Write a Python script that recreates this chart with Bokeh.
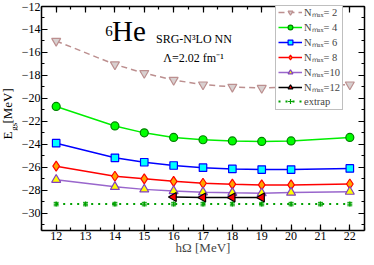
import math
from bokeh.plotting import figure
from bokeh.layouts import row
from bokeh.models import (LinearAxis, SingleIntervalTicker, Range1d, Label, Legend,
                          LegendItem, Whisker, ColumnDataSource)
from bokeh.core.properties import value
from bokeh.embed import file_html
from bokeh.resources import INLINE

# ---- data ----
hw = [12, 14, 15, 16, 17, 18, 19, 20, 22]
e_n2 = [-15.0, -17.05, -17.8, -18.4, -18.8, -19.0, -19.1, -19.0, -18.8]
e_n4 = [-20.7, -22.4, -23.0, -23.4, -23.6, -23.7, -23.75, -23.7, -23.4]
e_n6 = [-23.9, -25.17, -25.56, -25.84, -26.03, -26.14, -26.2, -26.2, -26.1]
e_n8 = [-25.9, -26.78, -27.0, -27.22, -27.39, -27.47, -27.53, -27.53, -27.45]
e_n10 = [-27.08, -27.7, -27.92, -28.06, -28.17, -28.22, -28.25, -28.2, -28.12]
hw_n12 = [16, 17, 18, 19]
e_n12 = [-28.58, -28.62, -28.62, -28.62]
hw_ex = [12, 13, 14, 15, 16, 17, 18, 19, 20, 21, 22]
e_ex = [-29.2] * 11
err_ex = [0.15] * 11
labels = ["N\u2098\u2090\u2093= 2", "N\u2098\u2090\u2093= 4", "N\u2098\u2090\u2093= 6",
          "N\u2098\u2090\u2093= 8", "N\u2098\u2090\u2093=10", "N\u2098\u2090\u2093=12", "extrap"]

FONT = "Liberation Serif"
W, H = 366, 257
LW = 18  # width of the strip holding the y-axis title

p = figure(width=W - LW, height=H, output_backend="svg", toolbar_location=None,
           x_range=Range1d(11.5, 22.5), y_range=Range1d(-31.5, -12),
           min_border_left=39 - LW, min_border_right=2, min_border_top=6,
           min_border_bottom=26)
p.grid.visible = False
p.outline_line_color = None
p.background_fill_color = "white"
p.border_fill_color = "white"

p.xaxis.ticker = SingleIntervalTicker(interval=1, num_minor_ticks=2)
p.yaxis.ticker = SingleIntervalTicker(interval=2, num_minor_ticks=2)

def style(ax, show_labels):
    ax.axis_line_width = 1.5
    ax.axis_line_color = "black"
    ax.major_tick_in = 6
    ax.major_tick_out = 0
    ax.minor_tick_in = 3
    ax.minor_tick_out = 0
    ax.major_tick_line_width = 1.2
    ax.minor_tick_line_width = 1.2
    ax.major_label_text_font = FONT
    ax.major_label_text_color = "black"
    if show_labels:
        ax.major_label_text_font_size = "12px"
    else:
        ax.major_label_text_font_size = "0px"
        ax.major_label_standoff = 0

style(p.xaxis[0], True)
style(p.yaxis[0], True)
p.xaxis.major_label_standoff = 1
p.yaxis.major_label_standoff = 1
p.xaxis.axis_label = "h\u03a9 [MeV]"
p.xaxis.axis_label_text_font = FONT
p.xaxis.axis_label_text_font_style = "normal"
p.xaxis.axis_label_text_font_size = "13px"
p.xaxis.axis_label_standoff = -3

top = LinearAxis(ticker=SingleIntervalTicker(interval=1, num_minor_ticks=2))
style(top, False)
p.add_layout(top, "above")
right = LinearAxis(ticker=SingleIntervalTicker(interval=2, num_minor_ticks=2))
style(right, False)
p.add_layout(right, "right")

# ---- series ----
items = []
r = p.line(hw, e_n2, line_color="#bc8f8f", line_width=1.5, line_dash="6 4")
s = p.scatter(hw, e_n2, marker="inverted_triangle", size=9, fill_color="#d8d0d0",
              line_color="#bc8f8f", line_width=1.2)
items.append(LegendItem(label=labels[0], renderers=[r, s]))

r = p.line(hw, e_n4, line_color="#00ee00", line_width=1.5)
s = p.scatter(hw, e_n4, marker="circle", size=8, fill_color="#00ff00",
              line_color="#008000", line_width=1.2)
items.append(LegendItem(label=labels[1], renderers=[r, s]))

r = p.line(hw, e_n6, line_color="#0000ff", line_width=1.5)
s = p.scatter(hw, e_n6, marker="square", size=7.5, fill_color="#00ffff",
              line_color="#0000ff", line_width=1.2)
items.append(LegendItem(label=labels[2], renderers=[r, s]))

r = p.line(hw, e_n8, line_color="#ff0000", line_width=1.5)
s = p.scatter(hw, e_n8, marker="diamond", size=10, fill_color="#ffa500",
              line_color="#ff0000", line_width=1.2)
items.append(LegendItem(label=labels[3], renderers=[r, s]))

r = p.line(hw, e_n10, line_color="#9966cc", line_width=1.5)
s = p.scatter(hw, e_n10, marker="triangle", size=9, fill_color="#ffff00",
              line_color="#8040c0", line_width=1.2)
items.append(LegendItem(label=labels[4], renderers=[r, s]))

r = p.line(hw_n12, e_n12, line_color="black", line_width=1.5)
s = p.scatter(hw_n12, e_n12, marker="triangle", angle=math.pi / 2, size=9,
              fill_color="#ff0000", line_color="black", line_width=1.2)
items.append(LegendItem(label=labels[5], renderers=[r, s]))

src = ColumnDataSource(dict(x=hw_ex, y=e_ex,
                            lo=[a - b for a, b in zip(e_ex, err_ex)],
                            hi=[a + b for a, b in zip(e_ex, err_ex)]))
r = p.line("x", "y", source=src, line_color="#00a000", line_width=2, line_dash="2 5")
w = Whisker(base="x", lower="lo", upper="hi", source=src, line_color="#00a000",
            line_width=1.2)
w.upper_head.size = 5
w.lower_head.size = 5
w.upper_head.line_color = "#00a000"
w.lower_head.line_color = "#00a000"
p.add_layout(w)
s = p.scatter("x", "y", source=src, marker="cross", size=5, line_color="#00a000",
              line_width=1.2)
items.append(LegendItem(label=labels[6], renderers=[r, s]))

leg = Legend(items=items, location=(234, 120))
leg.label_text_font = FONT
leg.label_text_font_size = "10.5px"
leg.label_height = 12
leg.glyph_height = 12
leg.glyph_width = 24
leg.spacing = 1
leg.padding = 2
leg.margin = 0
leg.label_standoff = 2
leg.border_line_color = "#808080"
leg.border_line_width = 1.5
leg.background_fill_color = "white"
leg.background_fill_alpha = 1.0
p.add_layout(leg, "center")

# ---- annotations ----
p.add_layout(Label(x=13.67, y=-14.55, text="6", text_font=FONT, text_font_size="15px",
                   text_color="black"))
p.add_layout(Label(x=13.9, y=-15.55, text="He", text_font=FONT, text_font_size="29px",
                   text_color="black"))
p.add_layout(Label(x=15.4, y=-15.4, text="SRG-N\u00b3LO NN", text_font=FONT,
                   text_font_size="12px", text_color="black"))
p.add_layout(Label(x=15.65, y=-17.1, text="\u039b=2.02 fm\u207b\u00b9", text_font=FONT,
                   text_font_size="12px", text_color="black"))

# ---- y-axis title strip (pixel coordinates, y up from the bottom) ----
q = figure(width=LW, height=H, output_backend="svg", toolbar_location=None,
           x_range=Range1d(0, LW), y_range=Range1d(0, H),
           x_axis_type=None, y_axis_type=None,
           min_border_left=0, min_border_right=0, min_border_top=0, min_border_bottom=0)
q.grid.visible = False
q.outline_line_color = None
q.border_fill_color = "white"
q.background_fill_color = "white"
q.text(x=[7], y=[109], text=["E"], angle=math.pi / 2, text_font=value(FONT),
       text_font_size="13px", text_color="black", text_align="center",
       text_baseline="middle")
q.text(x=[13], y=[119], text=["gs"], angle=math.pi / 2, text_font=value(FONT),
       text_font_size="9px", text_color="black", text_align="center",
       text_baseline="middle")
q.text(x=[7], y=[143], text=["[MeV]"], angle=math.pi / 2, text_font=value(FONT),
       text_font_size="13px", text_color="black", text_align="center",
       text_baseline="middle")

layout = row(q, p, spacing=0)
open("out.html", "w").write(file_html(layout, INLINE))
